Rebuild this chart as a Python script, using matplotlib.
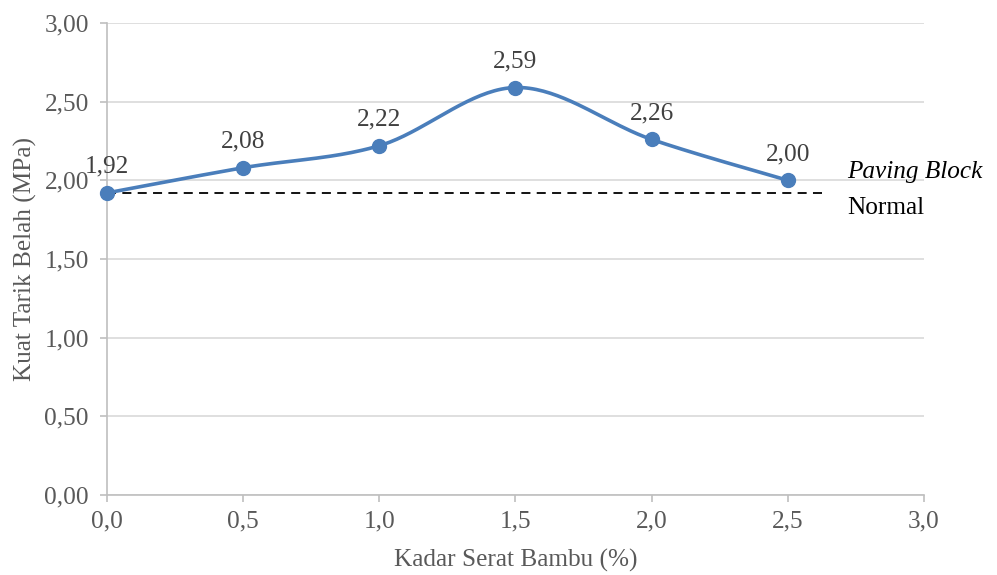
import numpy as np
import matplotlib.pyplot as plt

plt.rcParams['font.family'] = ['Liberation Serif', 'DejaVu Serif']

# Kadar serat bambu vs kuat tarik belah
kadar = [0.0, 0.5, 1.0, 1.5, 2.0, 2.5]
kuat_tarik = [1.92, 2.08, 2.22, 2.59, 2.26, 2.00]
normal_ref = 1.92
y_ticks = [0.0, 0.5, 1.0, 1.5, 2.0, 2.5, 3.0]
x_ticks = [0.0, 0.5, 1.0, 1.5, 2.0, 2.5, 3.0]

GRAY = '#595959'
BLUE = '#4A7EBB'
FS = 18.2


def smooth_curve(x, y, n=40):
    """Catmull-Rom style bezier through the points (like spreadsheet smoothing)."""
    x = np.asarray(x, float)
    y = np.asarray(y, float)
    xs, ys = [], []
    t = np.linspace(0, 1, n)
    for i in range(len(x) - 1):
        p0 = np.array([x[max(i - 1, 0)], y[max(i - 1, 0)]])
        p1 = np.array([x[i], y[i]])
        p2 = np.array([x[i + 1], y[i + 1]])
        p3 = np.array([x[min(i + 2, len(x) - 1)], y[min(i + 2, len(x) - 1)]])
        c1 = p1 + (p2 - p0) / 6
        c2 = p2 - (p3 - p1) / 6
        b = ((1 - t) ** 3)[:, None] * p1 + (3 * (1 - t) ** 2 * t)[:, None] * c1 \
            + (3 * (1 - t) * t ** 2)[:, None] * c2 + (t ** 3)[:, None] * p2
        xs.extend(b[:, 0])
        ys.extend(b[:, 1])
    return xs, ys


fig = plt.figure(figsize=(9.97, 5.75), dpi=100)
ax = fig.add_axes([0.1073, 0.1391, 0.8195, 0.8209])

ax.set_xlim(0, 3)
ax.set_ylim(0, 3)
ax.set_xticks(x_ticks)
ax.set_yticks(y_ticks)
ax.set_xticklabels([f'{v:.1f}'.replace('.', ',') for v in x_ticks])
ax.set_yticklabels([f'{v:.2f}'.replace('.', ',') for v in y_ticks])

ax.grid(axis='y', color='#D9D9D9', linewidth=1.2)
ax.set_axisbelow(True)
for side in ['top', 'right']:
    ax.spines[side].set_visible(False)
for side in ['left', 'bottom']:
    ax.spines[side].set_color('#BFBFBF')
    ax.spines[side].set_linewidth(1.2)
ax.tick_params(colors='#BFBFBF', labelcolor=GRAY, labelsize=FS, length=5, width=1.2)
ax.tick_params(axis='y', pad=8)
ax.tick_params(axis='x', pad=6)

# garis acuan paving block normal
ax.plot([0, 2.64], [normal_ref, normal_ref], color='black', linestyle=(0, (5, 3.5)),
        linewidth=1.3, zorder=2)

sx, sy = smooth_curve(kadar, kuat_tarik)
ax.plot(sx, sy, color=BLUE, linewidth=2.6, zorder=3, clip_on=False)
ax.plot(kadar, kuat_tarik, 'o', color=BLUE, markersize=10, zorder=4, clip_on=False)

for xv, yv in zip(kadar, kuat_tarik):
    ax.annotate(f'{yv:.2f}'.replace('.', ','), (xv, yv), xytext=(0, 11),
                textcoords='offset points', ha='center', va='bottom',
                fontsize=FS, color='#404040')

ax.text(847 / 997, 1 - 172 / 575, 'Paving Block', transform=fig.transFigure,
        fontsize=FS, style='italic', va='center', ha='left')
ax.text(847 / 997, 1 - 208 / 575, 'Normal', transform=fig.transFigure,
        fontsize=FS, va='center', ha='left')

ax.set_xlabel('Kadar Serat Bambu (%)', fontsize=FS, color=GRAY, labelpad=12)
ax.set_ylabel('Kuat Tarik Belah (MPa)', fontsize=FS, color=GRAY, labelpad=5)

fig.savefig('out.png', dpi=100)
